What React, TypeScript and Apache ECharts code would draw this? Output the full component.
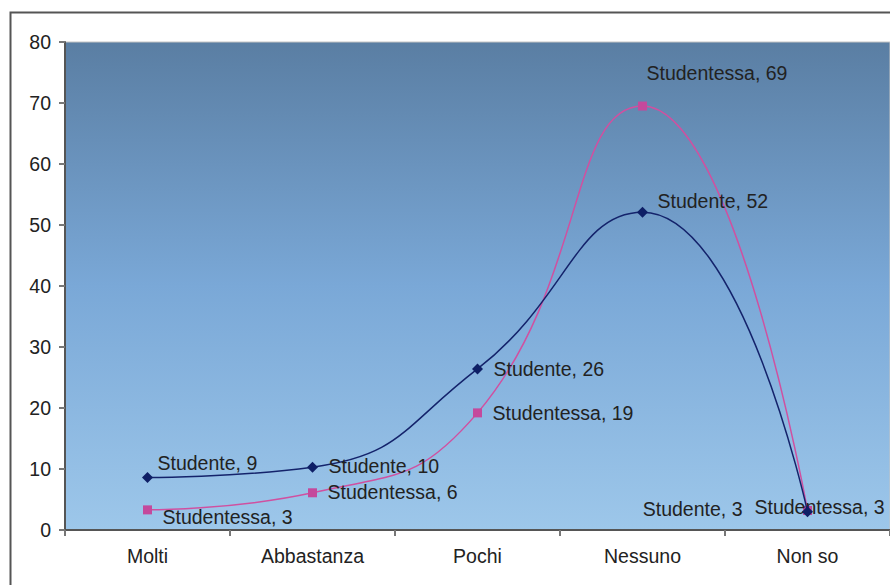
import React, { useEffect, useRef } from "react";
import * as echarts from "echarts";

const categories = ["Molti", "Abbastanza", "Pochi", "Nessuno", "Non so"];
const studenteValues = [8.6, 10.3, 26.4, 52.1, 3.0];
const studentessaValues = [3.3, 6.1, 19.2, 69.5, 3.2];
const studenteLabels = [9, 10, 26, 52, 3];
const studentessaLabels = [3, 6, 19, 69, 3];
const yTicks = [0, 10, 20, 30, 40, 50, 60, 70, 80];

const studenteOffsets: [number, number][] = [
  [4.5, -15],
  [10.5, -1],
  [10.5, 0],
  [9.5, -11],
  [-59.5, -3],
];
const studentessaOffsets: [number, number][] = [
  [10.5, 7],
  [10.5, -1],
  [10.5, 0],
  [-0.5, -33],
  [-57.5, -3],
];

const FONT = "'Liberation Sans', Arial, sans-serif";

export default function App() {
  const ref = useRef<HTMLDivElement>(null);
  useEffect(() => {
    if (!ref.current) return;
    const chart = echarts.init(ref.current, undefined, { renderer: "svg" });
    const mkData = (
      vals: number[],
      labels: number[],
      offs: [number, number][],
      name: string,
      leftIdx: number[]
    ) =>
      vals.map((v, i) => {
        const isLeft = leftIdx.indexOf(i) >= 0;
        return {
          value: v,
          label: {
            show: true,
            position: isLeft ? "left" : "right",
            distance: 0,
            offset: offs[i],
            formatter: `${name}, ${labels[i]}`,
            fontSize: 19.5,
            fontFamily: FONT,
            color: "#222",
            align: isLeft ? "right" : "left",
            verticalAlign: "middle",
          },
        };
      });
    const sd = mkData(studenteValues, studenteLabels, studenteOffsets, "Studente", [4]);
    const fd = mkData(studentessaValues, studentessaLabels, studentessaOffsets, "Studentessa", []);

    chart.setOption({
      animation: false,
      backgroundColor: "#ffffff",
      grid: {
        left: 65,
        top: 42,
        right: 0,
        bottom: 55,
        show: true,
        borderColor: "#c4c4c4",
        borderWidth: 1,
        backgroundColor: new echarts.graphic.LinearGradient(0, 0, 0, 1, [
          { offset: 0, color: "#5a7ea3" },
          { offset: 0.5, color: "#7aa8d7" },
          { offset: 1, color: "#9dc7ea" },
        ]),
      },
      xAxis: {
        type: "category",
        data: categories,
        boundaryGap: true,
        axisLine: { lineStyle: { color: "#555", width: 2 } },
        axisTick: { show: true, length: 6, lineStyle: { color: "#777", width: 2 } },
        axisLabel: { fontSize: 19.5, fontFamily: FONT, color: "#222", margin: 16 },
      },
      yAxis: {
        type: "value",
        min: yTicks[0],
        max: yTicks[yTicks.length - 1],
        interval: 10,
        splitLine: { show: false },
        axisLine: { show: true, lineStyle: { color: "#555", width: 2 } },
        axisTick: { show: true, length: 6, lineStyle: { color: "#777", width: 2 } },
        axisLabel: { fontSize: 19.5, fontFamily: FONT, color: "#222", margin: 14 },
      },
      series: [
        {
          name: "Studente",
          type: "line",
          smooth: 0.5,
          data: sd,
          symbol: "diamond",
          symbolSize: 11,
          itemStyle: { color: "#0e1f66" },
          lineStyle: { color: "#14236b", width: 1.5 },
          z: 3,
        },
        {
          name: "Studentessa",
          type: "line",
          smooth: 0.5,
          data: fd,
          symbol: "rect",
          symbolSize: 9,
          itemStyle: { color: "#c4499c" },
          lineStyle: { color: "#d050a0", width: 1.5 },
          z: 2,
        },
      ],
      graphic: [
        {
          type: "rect",
          shape: { x: 10.5, y: 12.5, width: 900, height: 600 },
          style: { fill: "none", stroke: "#555", lineWidth: 2 },
          silent: true,
          z: 100,
        },
      ],
    });
    return () => chart.dispose();
  }, []);
  return (
    <div
      ref={ref}
      style={{ position: "fixed", left: 0, top: 0, width: 890, height: 585 }}
    />
  );
}
